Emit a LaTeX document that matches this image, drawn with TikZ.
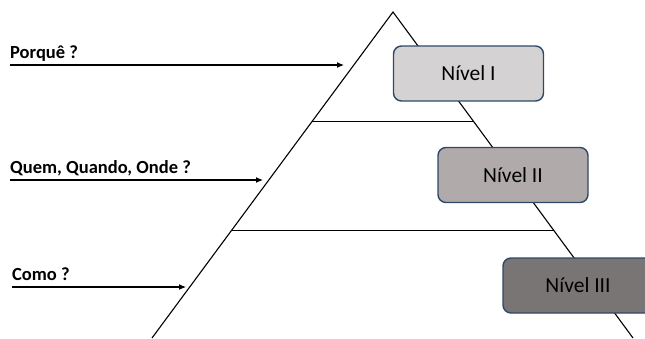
\documentclass[tikz,border=0pt]{standalone}
\usepackage{fontspec}
\setmainfont{Carlito}
\usetikzlibrary{arrows.meta,calc}
\definecolor{levelone}{RGB}{212,210,210}
\definecolor{leveltwo}{RGB}{176,170,170}
\definecolor{levelthree}{RGB}{121,117,117}
\definecolor{boxborder}{RGB}{47,72,105}
\begin{document}
\begin{tikzpicture}[
  x=1pt, y=-1pt,
  side/.style={draw=black, line width=1.1pt},
  level_box/.style={draw=boxborder, line width=1.4pt, rounded corners=8pt,
    minimum width=150pt, minimum height=55pt, inner sep=0pt,
    font=\fontsize{21.5}{24}\selectfont},
  question/.style={anchor=base west, inner sep=0pt, font=\fontsize{18.5}{21}\selectfont\bfseries},
  ask_arrow/.style={-{Latex[length=7pt,width=6pt]}, draw=black, line width=1.1pt}
]
\useasboundingbox (0,0) rectangle (645,338);
\clip (0,0) rectangle (645,338);

% Pyramid outline
\coordinate (apex) at (393,12);
\coordinate (bl) at (152,338);
\coordinate (br) at (633,338);
\draw[side] (bl) -- (apex) -- (br);

% Level separators
\draw[side] ($(apex)!0.337!(bl)$) coordinate (s1l) -- ($(apex)!0.337!(br)$) coordinate (s1r);
\draw[side] ($(apex)!0.669!(bl)$) coordinate (s2l) -- ($(apex)!0.669!(br)$) coordinate (s2r);

% Level boxes
\node[level_box, fill=levelone] (lvl1) at (468.5,73.5) {Nível I};
\node[level_box, fill=leveltwo] (lvl2) at (513,175) {Nível II};
\node[level_box, fill=levelthree] (lvl3) at (578,285.5) {Nível III};

% Questions with arrows
\foreach \k/\y/\xs/\xe/\txt in {1/65/10/344/{Porquê ?},
                                2/180/10/263/{Quem, Quando, Onde ?},
                                3/287/12/186/{Como ?}} {
  \node[question] (q\k) at (\xs,\y-7) {\txt};
  \coordinate (qs\k) at (\xs,\y);
  \coordinate (qe\k) at (\xe,\y);
  \draw[ask_arrow] (qs\k) -- (qe\k);
}

\end{tikzpicture}
\end{document}
